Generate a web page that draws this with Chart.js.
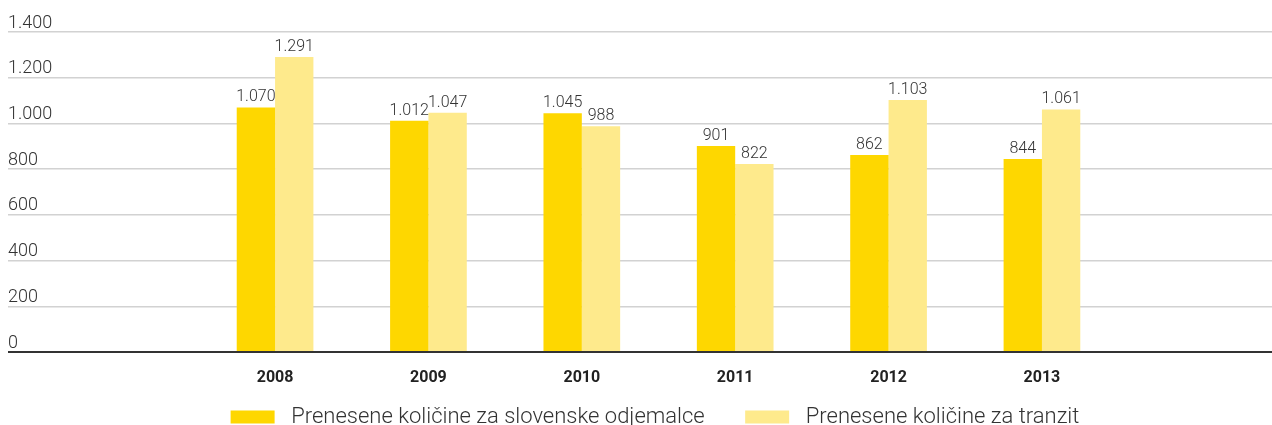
<!DOCTYPE html>
<html lang="sl">
<head>
  <meta charset="UTF-8">
  <title>Prenesene količine</title>
  <style>
    body { margin: 0; background: #fff; }
    #chart { display: block; }
  </style>
  <script src="https://cdn.jsdelivr.net/npm/chart.js"></script>
</head>
<body>
  <canvas id="chart" width="1272" height="425"></canvas>
  <script>
    // empty slots at both ends keep the bars where the original had them
    const years = ["", "2008", "2009", "2010", "2011", "2012", "2013", ""];
    const domestic = [null, 1070, 1012, 1045, 901, 862, 844, null];
    const transit = [null, 1291, 1047, 988, 822, 1103, 1061, null];
    const seriesNames = ["Prenesene količine za slovenske odjemalce", "Prenesene količine za tranzit"];
    const yTicks = [0, 200, 400, 600, 800, 1000, 1200, 1400];

    const FONT = "Roboto, 'DejaVu Sans', sans-serif";

    function fmt(v) {
      return String(v).replace(/\B(?=(\d{3})+(?!\d))/g, ".");
    }

    const valueLabels = {
      id: "valueLabels",
      afterDatasetsDraw(chart) {
        const ctx = chart.ctx;
        ctx.save();
        ctx.font = "300 16px " + FONT;
        ctx.fillStyle = "#333";
        ctx.textAlign = "center";
        ctx.textBaseline = "bottom";
        chart.data.datasets.forEach((ds, i) => {
          chart.getDatasetMeta(i).data.forEach((bar, j) => {
            const v = ds.data[j];
            if (v == null) return;
            ctx.fillText(fmt(v), bar.x, bar.y - 2);
          });
        });
        ctx.restore();
      }
    };

    // legend in the original sits a bit right of centre
    const legendShift = {
      id: "legendShift",
      afterLayout(chart) {
        chart.legend.left += 15;
        chart.legend.right += 15;
      }
    };

    new Chart(document.getElementById("chart"), {
      type: "bar",
      data: {
        labels: years,
        datasets: [{
          label: seriesNames[0],
          data: domestic,
          backgroundColor: "#FED700",
          barPercentage: 1,
          categoryPercentage: 0.5
        }, {
          label: seriesNames[1],
          data: transit,
          backgroundColor: "#FEEA8C",
          barPercentage: 1,
          categoryPercentage: 0.5
        }]
      },
      options: {
        responsive: false,
        animation: false,
        layout: { padding: { left: 8, right: 0, top: 32, bottom: -13 } },
        plugins: {
          tooltip: { enabled: false },
          legend: {
            position: "bottom",
            labels: {
              boxWidth: 44,
              boxHeight: 13,
              padding: 18,
              color: "#333",
              font: { family: FONT, size: 22, weight: "300" },
              generateLabels(chart) {
                const items = Chart.defaults.plugins.legend.labels.generateLabels(chart);
                items.forEach(it => { it.text = "\u2005" + it.text; });
                // a little extra room after the first entry
                items[0].text += "\u2003";
                return items;
              }
            }
          }
        },
        scales: {
          x: {
            afterFit(scale) {
              scale.height = 36;
            },
            border: { display: false },
            grid: { display: false, drawTicks: false, tickLength: 0 },
            ticks: {
              mirror: true,
              padding: -36,
              color: "#222",
              font: { family: FONT, size: 16, weight: "bold" }
            }
          },
          y: {
            min: 0,
            max: 1400,
            afterBuildTicks(scale) {
              scale.ticks = yTicks.map(v => ({ value: v }));
            },
            afterFit(scale) {
              scale.width = 37;
            },
            border: { display: false },
            grid: {
              tickLength: 37,
              color: c => c.tick && c.tick.value === 0 ? "#333" : "#d2d2d2",
              lineWidth: c => c.tick && c.tick.value === 0 ? 2 : 1.5
            },
            ticks: {
              mirror: true,
              align: "end",
              crossAlign: "near",
              padding: -37,
              color: "#333",
              font: { family: FONT, size: 18, weight: "300" },
              callback: v => fmt(v)
            }
          }
        }
      },
      plugins: [valueLabels, legendShift]
    });
  </script>
</body>
</html>
